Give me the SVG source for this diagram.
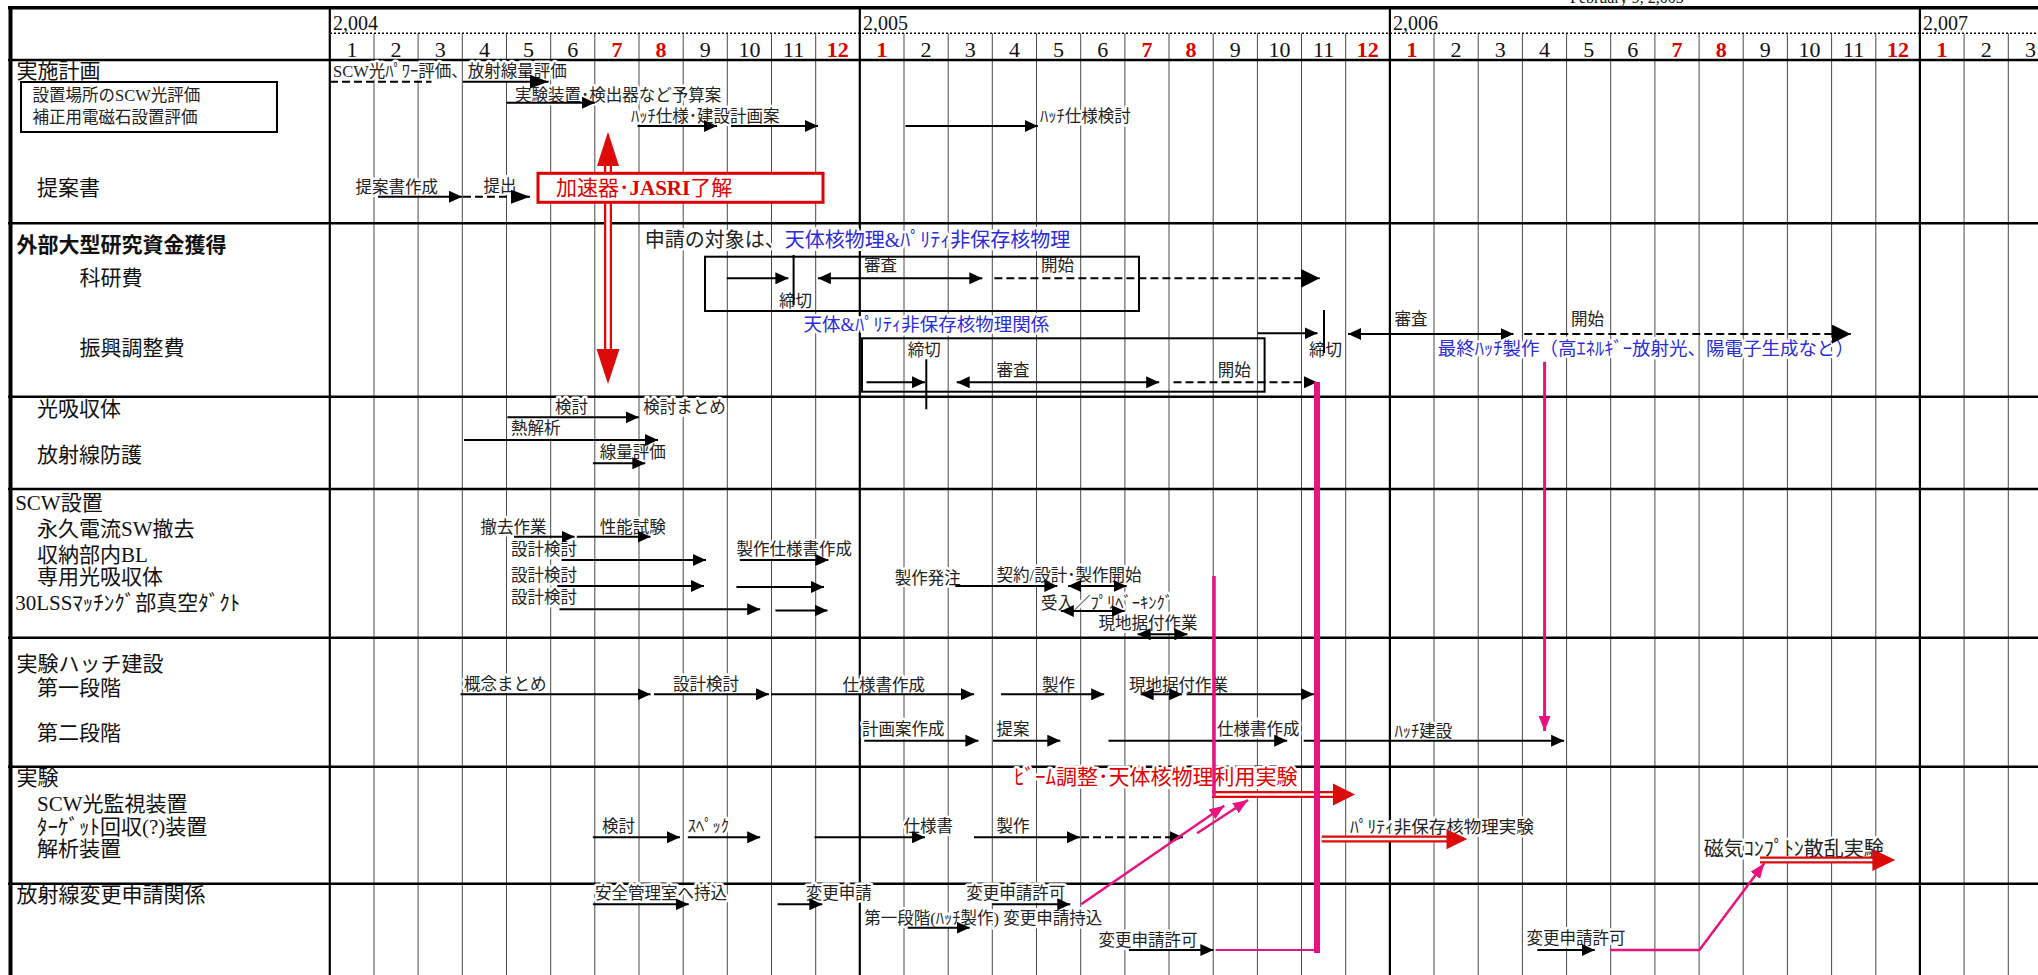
<svg xmlns="http://www.w3.org/2000/svg" width="2038" height="975" viewBox="0 0 2038 975">
<style>
.t{font-family:"Liberation Serif","Noto Sans CJK JP",serif;dominant-baseline:central}
.L{font-size:21px;fill:#111}
.b{font-size:16.5px;fill:#222;paint-order:stroke;stroke:#fff;stroke-width:5px;stroke-linejoin:round}
.nh{stroke:none}
.mn{font-size:22px;fill:#111;text-anchor:middle}
.mr{font-size:22px;fill:#e00000;font-weight:bold;text-anchor:middle}
.yr{font-family:"Liberation Serif",serif;font-size:20px;fill:#111}
.blue{fill:#2b2bd9}
.grid{stroke:#4a4a4a;stroke-width:1;fill:none}
.year{stroke:#000;stroke-width:2.2;fill:none}
.sec{stroke:#000;stroke-width:2.5;fill:none}
.ar{stroke:#000;stroke-width:2;fill:none;marker-end:url(#a)}
.arL{stroke:#000;stroke-width:2;fill:none;marker-end:url(#aL)}
.dbl{stroke:#000;stroke-width:2;fill:none;marker-end:url(#a);marker-start:url(#a)}
.ds{stroke:#000;stroke-width:2;fill:none;stroke-dasharray:8 4}
.ln{stroke:#000;stroke-width:2;fill:none}
.box{stroke:#000;stroke-width:2;fill:none}
.pk{stroke:#e8137f;fill:none}
.pka{stroke:#e8137f;stroke-width:2.5;fill:none;marker-end:url(#pa)}
.rd{fill:#dd0a0a}
</style>
<defs>
<marker id="a" markerUnits="userSpaceOnUse" markerWidth="13" markerHeight="12" refX="13" refY="6" orient="auto-start-reverse"><path d="M0,0 L13,6 L0,12 z" fill="#000"/></marker>
<marker id="aL" markerUnits="userSpaceOnUse" markerWidth="19" markerHeight="14" refX="19" refY="7" orient="auto-start-reverse"><path d="M0,0 L19,7 L0,14 z" fill="#000"/></marker>
<marker id="aXL" markerUnits="userSpaceOnUse" markerWidth="19" markerHeight="19" refX="19" refY="9.5" orient="auto-start-reverse"><path d="M0,0 L19,9.5 L0,19 z" fill="#000"/></marker>
<marker id="pa" markerUnits="userSpaceOnUse" markerWidth="15" markerHeight="12" refX="15" refY="6" orient="auto"><path d="M0,0 L15,6 L0,12 z" fill="#e8137f"/></marker>
</defs>
<rect x="0" y="0" width="2038" height="975" fill="#fff"/>

<!-- grid -->
<g id="grid">
<path class="grid" d="M374,33.3V975M418.1,33.3V975M462.3,33.3V975M506.5,33.3V975M550.7,33.3V975M594.8,33.3V975M639,33.3V975M683.2,33.3V975M727.3,33.3V975M771.5,33.3V975M815.7,33.3V975M904,33.3V975M948.2,33.3V975M992.3,33.3V975M1036.5,33.3V975M1080.7,33.3V975M1124.9,33.3V975M1169,33.3V975M1213.2,33.3V975M1257.4,33.3V975M1301.5,33.3V975M1345.7,33.3V975M1434,33.3V975M1478.2,33.3V975M1522.4,33.3V975M1566.6,33.3V975M1610.7,33.3V975M1654.9,33.3V975M1699.1,33.3V975M1743.2,33.3V975M1787.4,33.3V975M1831.6,33.3V975M1875.8,33.3V975M1964.1,33.3V975M2008.3,33.3V975"/>
<path class="year" d="M329.8,7.7V975M859.8,7.7V975M1389.9,7.7V975M1919.9,7.7V975"/>
<path d="M330,33.3H2038" stroke="#000" stroke-width="1.5" stroke-dasharray="2 2"/>
<path class="sec" d="M8,60H2038M8,223.3H2038M8,396.7H2038M8,489H2038M8,637.7H2038M8,766.7H2038M8,883.7H2038"/>
<path d="M8,7.7H2038" stroke="#000" stroke-width="3.5"/>
<path d="M10.5,6V975" stroke="#000" stroke-width="4"/>
</g>
<text class="yr" x="1570" y="3" style="font-size:16px">February 9, 2,005</text>

<!-- header -->
<g id="header">
<text class="yr" x="333" y="29.5">2,004</text>
<text class="yr" x="863" y="29.5">2,005</text>
<text class="yr" x="1393" y="29.5">2,006</text>
<text class="yr" x="1923" y="29.5">2,007</text>
<g class="t">
<text class="mn" x="351.9" y="49">1</text><text class="mn" x="396.1" y="49">2</text><text class="mn" x="440.2" y="49">3</text><text class="mn" x="484.4" y="49">4</text><text class="mn" x="528.6" y="49">5</text><text class="mn" x="572.8" y="49">6</text><text class="mr" x="616.9" y="49">7</text><text class="mr" x="661.1" y="49">8</text><text class="mn" x="705.3" y="49">9</text><text class="mn" x="749.4" y="49">10</text><text class="mn" x="793.6" y="49">11</text><text class="mr" x="837.8" y="49">12</text>
<text class="mr" x="881.9" y="49">1</text><text class="mn" x="926.1" y="49">2</text><text class="mn" x="970.3" y="49">3</text><text class="mn" x="1014.4" y="49">4</text><text class="mn" x="1058.6" y="49">5</text><text class="mn" x="1102.8" y="49">6</text><text class="mr" x="1147" y="49">7</text><text class="mr" x="1191.1" y="49">8</text><text class="mn" x="1235.3" y="49">9</text><text class="mn" x="1279.5" y="49">10</text><text class="mn" x="1323.6" y="49">11</text><text class="mr" x="1367.8" y="49">12</text>
<text class="mr" x="1412" y="49">1</text><text class="mn" x="1456.1" y="49">2</text><text class="mn" x="1500.3" y="49">3</text><text class="mn" x="1544.5" y="49">4</text><text class="mn" x="1588.7" y="49">5</text><text class="mn" x="1632.8" y="49">6</text><text class="mr" x="1677" y="49">7</text><text class="mr" x="1721.2" y="49">8</text><text class="mn" x="1765.3" y="49">9</text><text class="mn" x="1809.5" y="49">10</text><text class="mn" x="1853.7" y="49">11</text><text class="mr" x="1897.9" y="49">12</text>
<text class="mr" x="1942" y="49">1</text><text class="mn" x="1986.2" y="49">2</text><text class="mn" x="2030.4" y="49">3</text>
</g>
</g>

<!-- row labels -->
<g id="row-labels" class="t">
<text class="L" x="16.5" y="71">実施計画</text>
<rect x="21" y="82" width="256" height="50" fill="none" stroke="#000" stroke-width="2"/>
<text class="t" x="32.5" y="95" style="font-size:16.5px;fill:#222">設置場所のSCW光評価</text>
<text class="t" x="32.5" y="117.7" style="font-size:16.5px;fill:#222">補正用電磁石設置評価</text>
<text class="L" x="37" y="188">提案書</text>
<text class="L" x="16.5" y="245" style="font-weight:bold">外部大型研究資金獲得</text>
<text class="L" x="79.4" y="277.7">科研費</text>
<text class="L" x="79.4" y="348.3">振興調整費</text>
<text class="L" x="37" y="409.3">光吸収体</text>
<text class="L" x="37" y="455">放射線防護</text>
<text class="L" x="15.2" y="502.7">SCW設置</text>
<text class="L" x="37" y="529">永久電流SW撤去</text>
<text class="L" x="37" y="555">収納部内BL</text>
<text class="L" x="37" y="577.3">専用光吸収体</text>
<text class="L" x="15.2" y="602.7">30LSSﾏｯﾁﾝｸﾞ部真空ﾀﾞｸﾄ</text>
<text class="L" x="16.5" y="664.3">実験ハッチ建設</text>
<text class="L" x="37" y="687.7">第一段階</text>
<text class="L" x="37" y="733.3">第二段階</text>
<text class="L" x="16.5" y="778.3">実験</text>
<text class="L" x="37" y="804.3">SCW光監視装置</text>
<text class="L" x="37" y="826.7">ﾀｰｹﾞｯﾄ回収(?)装置</text>
<text class="L" x="37" y="849.3">解析装置</text>
<text class="L" x="16.5" y="895">放射線変更申請関係</text>
</g>

<!-- task labels -->
<g id="task-labels" class="t">
<text class="b" x="333" y="71">SCW光ﾊﾟﾜｰ評価、放射線量評価</text>
<text class="b" x="515" y="95">実験装置･検出器など予算案</text>
<text class="b" x="631" y="116">ﾊｯﾁ仕様･建設計画案</text>
<text class="b" x="1040" y="116">ﾊｯﾁ仕様検討</text>
<text class="b" x="355.6" y="187.3">提案書作成</text>
<text class="b" x="483.6" y="186.7">提出</text>
<text class="b" x="644.8" y="240" style="font-size:20px">申請の対象は、<tspan class="blue">天体核物理&amp;ﾊﾟﾘﾃｨ非保存核物理</tspan></text>
<text class="b" x="864" y="265.7">審査</text>
<text class="b" x="1041" y="265.7">開始</text>
<text class="b blue" x="803.6" y="325" style="font-size:18.5px">天体&amp;ﾊﾟﾘﾃｨ非保存核物理関係</text>
<text class="b" x="907.7" y="350">締切</text>
<text class="b" x="996.6" y="370">審査</text>
<text class="b" x="1217.8" y="370">開始</text>
<text class="b" x="1309" y="350">締切</text>
<text class="b" x="1394.6" y="319">審査</text>
<text class="b" x="1571" y="319">開始</text>
<text class="b blue" x="1437.8" y="349.3" style="font-size:18.5px">最終ﾊｯﾁ製作（高ｴﾈﾙｷﾞｰ放射光、陽電子生成など）</text>
<text class="b" x="555" y="407.3">検討</text>
<text class="b" x="643.2" y="407.3">検討まとめ</text>
<text class="b" x="511" y="428.3">熱解析</text>
<text class="b" x="599.8" y="452.7">線量評価</text>
<text class="b" x="480.5" y="527.3">撤去作業</text>
<text class="b" x="599.8" y="527.3">性能試験</text>
<text class="b" x="511" y="549.3">設計検討</text>
<text class="b" x="736.4" y="549.3">製作仕様書作成</text>
<text class="b" x="511" y="575">設計検討</text>
<text class="b" x="511" y="597.3">設計検討</text>
<text class="b" x="894.7" y="578.3">製作発注</text>
<text class="b" x="996.6" y="575">契約/設計･製作開始</text>
<text class="b" x="1040.9" y="603.3">受入／ﾌﾟﾘﾍﾞｰｷﾝｸﾞ</text>
<text class="b" x="1098.5" y="623.3">現地据付作業</text>
<text class="b" x="464" y="684.3">概念まとめ</text>
<text class="b" x="673" y="684.3">設計検討</text>
<text class="b" x="842.6" y="685">仕様書作成</text>
<text class="b" x="1042" y="685">製作</text>
<text class="b" x="1128.9" y="685">現地据付作業</text>
<text class="b" x="862.1" y="729">計画案作成</text>
<text class="b" x="996.6" y="729">提案</text>
<text class="b" x="1217" y="729">仕様書作成</text>
<text class="b" x="1394.6" y="731">ﾊｯﾁ建設</text>
<text class="b" x="1013.9" y="776.7" style="font-size:21px;fill:#e00000">ﾋﾞｰﾑ調整･天体核物理利用実験</text>
<text class="b" x="602" y="826.7">検討</text>
<text class="b" x="687.8" y="826.7">ｽﾍﾟｯｸ</text>
<text class="b" x="903.4" y="826.7">仕様書</text>
<text class="b" x="996.6" y="826.7">製作</text>
<text class="b" x="1350" y="826.7" style="font-size:17.5px">ﾊﾟﾘﾃｨ非保存核物理実験</text>
<text class="b" x="1703.8" y="849" style="font-size:20px">磁気ｺﾝﾌﾟﾄﾝ散乱実験</text>
<text class="b" x="595" y="893.3">安全管理室へ持込</text>
<text class="b" x="805.8" y="893.3">変更申請</text>
<text class="b" x="966.2" y="893.3">変更申請許可</text>
<text class="b" x="864.3" y="918.3">第一段階(ﾊｯﾁ製作) 変更申請持込</text>
<text class="b" x="1098.5" y="940">変更申請許可</text>
<text class="b" x="1526.5" y="938.3">変更申請許可</text>
</g>

<!-- boxes -->
<g id="kaken-box"><rect class="box" x="705" y="256.7" width="434" height="54.3"/><text class="t b nh" x="779" y="301.7">締切</text></g>
<g id="shinko-box"><rect class="box" x="862" y="338.3" width="402.6" height="53.4"/></g>

<!-- connectors -->
<g id="connectors">
<path class="ds" d="M330,81.7H431.5"/>
<path class="arL" d="M462.8,81.7H548.6"/>
<path class="ar" d="M506.6,102.7H595"/>
<path class="ar" d="M637.5,126H717"/>
<path class="ar" d="M731,126H818"/>
<path class="ar" d="M905.5,126H1037.8"/>
<path class="ar" d="M378,196.7H462"/>
<path class="ds" d="M463,196.7H530" style="marker-end:url(#aL)"/>
<path class="ar" d="M726.8,278.3H788.4"/>
<path class="ln" d="M793.6,255V305"/>
<path class="dbl" d="M817.9,278.3H982.3"/>
<path class="ds" d="M994.4,278.3H1319.7" style="marker-end:url(#aXL)"/>
<path class="ar" d="M866.5,382.3H925"/>
<path class="ln" d="M926.3,359.3V409.3"/>
<path class="dbl" d="M956.7,382.3H1159.2"/>
<path class="ds" d="M1173.5,382.3H1317" style="marker-end:url(#a)"/>
<path class="ar" d="M1257.7,333.3H1317.5"/>
<path class="ln" d="M1324,310V353"/>
<path class="dbl" d="M1348,334H1513.5"/>
<path class="ds" d="M1524.3,334H1850.8" style="marker-end:url(#aXL)"/>
<path class="ar" d="M507.4,417.3H638.8"/>
<path class="ar" d="M464,440H658"/>
<path class="ar" d="M592.9,463.3H645.3"/>
<path class="ar" d="M514,536.7H574.6"/>
<path class="ar" d="M576.8,536.7H650.5"/>
<path class="ar" d="M561.6,560H706"/>
<path class="ar" d="M739.8,560H828.3"/>
<path class="ar" d="M557.3,586H703.9"/>
<path class="ar" d="M736.4,587H824"/>
<path class="ar" d="M559.5,609.3H760.2"/>
<path class="ar" d="M775.4,610.5H827.5"/>
<path class="ar" d="M955.4,586H1057.3"/>
<path class="dbl" d="M1068.1,586H1126.7"/>
<path class="dbl" d="M1060.8,611H1124.5"/>
<path class="dbl" d="M1137.6,634.3H1187.4"/>
<path class="ar" d="M460.6,694.3H650.5"/>
<path class="ar" d="M654,694.3H768.9"/>
<path class="ar" d="M771,694.3H974"/>
<path class="ar" d="M1001,694.3H1104.2"/>
<path class="dbl" d="M1140.6,694.3H1182.2"/>
<path class="ar" d="M1186.6,694.3H1314"/>
<path class="ar" d="M864.3,740.7H978.4"/>
<path class="ar" d="M993,740.7H1060.3"/>
<path class="ar" d="M1108.5,740.7H1287.2"/>
<path class="ar" d="M1303.7,740.7H1564.1"/>
<path class="ar" d="M592.9,837.3H680"/>
<path class="ar" d="M687.8,837.3H760.2"/>
<path class="ar" d="M814.5,837.3H925"/>
<path class="ar" d="M974,837.3H1079.9"/>
<path class="ds" d="M1081,837.3H1183" style="marker-end:url(#a)"/>
<path class="ar" d="M592.9,904.3H688.7"/>
<path class="ar" d="M777.6,904.3H822.3"/>
<path class="ar" d="M992.3,904.3H1070.3"/>
<path class="ar" d="M907.7,927.7H969.7"/>
<path class="ar" d="M1128.9,950H1213.4"/>
<path class="ar" d="M1537.3,950H1594.8"/>

<!-- red accelerator double arrow -->
<g id="red-vertical">
<path d="M608,165V350" stroke="#dd0a0a" stroke-width="8"/>
<path d="M608,165V350" stroke="#fff" stroke-width="3.5"/>
<path class="rd" d="M608,131.7L619,166L597,166z"/>
<path class="rd" d="M596.5,349L619.5,349L608,384z"/>
</g>
<!-- red horizontal double arrows -->
<g id="red-arrows">
<path d="M1212,794.5H1334" stroke="#dd0a0a" stroke-width="7"/>
<path d="M1212,794.5H1334" stroke="#fff" stroke-width="2.3"/>
<path class="rd" d="M1333,783.5L1355,794.5L1333,805.5z"/>
<path d="M1321.7,839H1447" stroke="#dd0a0a" stroke-width="7"/>
<path d="M1321.7,839H1447" stroke="#fff" stroke-width="2.3"/>
<path class="rd" d="M1446.5,829.3L1467.3,839L1446.5,849.3z"/>
<path d="M1760,860H1873" stroke="#dd0a0a" stroke-width="7"/>
<path d="M1760,860H1873" stroke="#fff" stroke-width="2.3"/>
<path class="rd" d="M1872.4,849L1895.3,860L1872.4,871z"/>
</g>

<!-- pink links -->
<g id="pink-links">
<path class="pk" stroke-width="3.5" d="M1214,576V797"/>
<path class="pk" stroke-width="6" d="M1317,382V953"/>
<path class="pk" stroke-width="2" d="M1215.6,950H1317"/>
<path class="pka" d="M1081.2,904.3L1224.3,805.7"/>
<path class="pka" d="M1197,833.3L1248,800"/>
<path class="pka" style="stroke-width:3px" d="M1544.6,361.7V731"/>
<path class="pka" d="M1610,950H1699.4L1764.3,863.3"/>
</g>
</g>

<!-- accelerator approval box -->
<g id="approval">
<rect x="538" y="173.3" width="285" height="29" fill="#fff" stroke="#e00000" stroke-width="3"/>
<text class="t" x="556" y="188.3" style="font-size:21px;fill:#e00000">加速器･<tspan style="font-weight:bold">JASRI</tspan>了解</text>
</g>
</svg>
